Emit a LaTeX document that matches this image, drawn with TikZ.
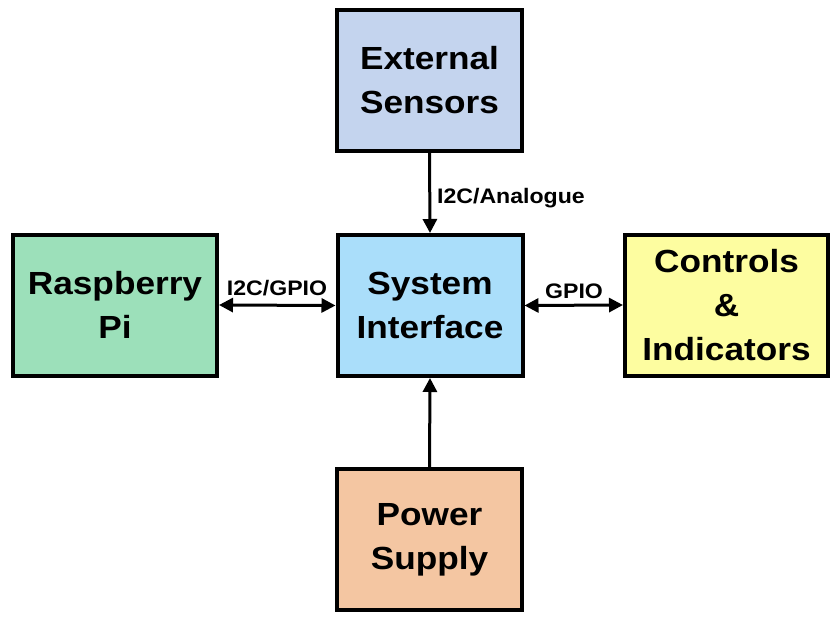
\documentclass[tikz,border=0pt]{standalone}
\usepackage{fontspec}
\setmainfont{Liberation Sans}[FakeStretch=1.1]
\usetikzlibrary{arrows.meta}
\definecolor{extc}{RGB}{196,212,238}
\definecolor{rpic}{RGB}{156,224,186}
\definecolor{sysc}{RGB}{170,222,250}
\definecolor{ctlc}{RGB}{253,253,160}
\definecolor{pwrc}{RGB}{244,198,162}
\tikzset{
  blk/.style={draw=black, line width=4pt, minimum width=185pt, minimum height=141pt,
    align=center, inner sep=0pt, font=\fontsize{32}{44}\selectfont\bfseries,
    execute at begin node={\rule{0pt}{35pt}}},
  lbl/.style={inner sep=0pt, font=\fontsize{21}{24}\selectfont\bfseries},
  conn/.style={line width=3pt, -{Triangle[length=14pt,width=14pt]}},
  conn2/.style={line width=3pt, {Triangle[length=14pt,width=14pt]}-{Triangle[length=14pt,width=14pt]}}
}
\begin{document}
\begin{tikzpicture}[x=1pt,y=-1pt]
\useasboundingbox (0,0) rectangle (838,623);
\node[blk, fill=extc] (ext) at (429.5,80.5) {External\\Sensors};
\node[blk, fill=sysc] (sys) at (430,305.5) {System\\Interface};
\node[blk, fill=rpic, minimum width=204pt] (rpi) at (115,305) {Raspberry\\Pi};
\node[blk, fill=ctlc, minimum width=203pt] (ctl) at (726.5,305) {Controls\\\&\\Indicators};
\node[blk, fill=pwrc] (pwr) at (429.5,539.5) {Power\\Supply};
\draw[conn] (ext.south) -- (sys.north);
\draw[conn] (pwr.north) -- (sys.south);
\draw[conn2] (rpi.east) -- (sys.west);
\draw[conn2] (sys.east) -- (ctl.west);
\node[lbl, anchor=base west] (l1) at (437,203) {I2C/Analogue};
\node[lbl, anchor=base] (l2) at (277,295) {I2C/GPIO};
\node[lbl, anchor=base] (l3) at (574,298) {GPIO};
\end{tikzpicture}
\end{document}
